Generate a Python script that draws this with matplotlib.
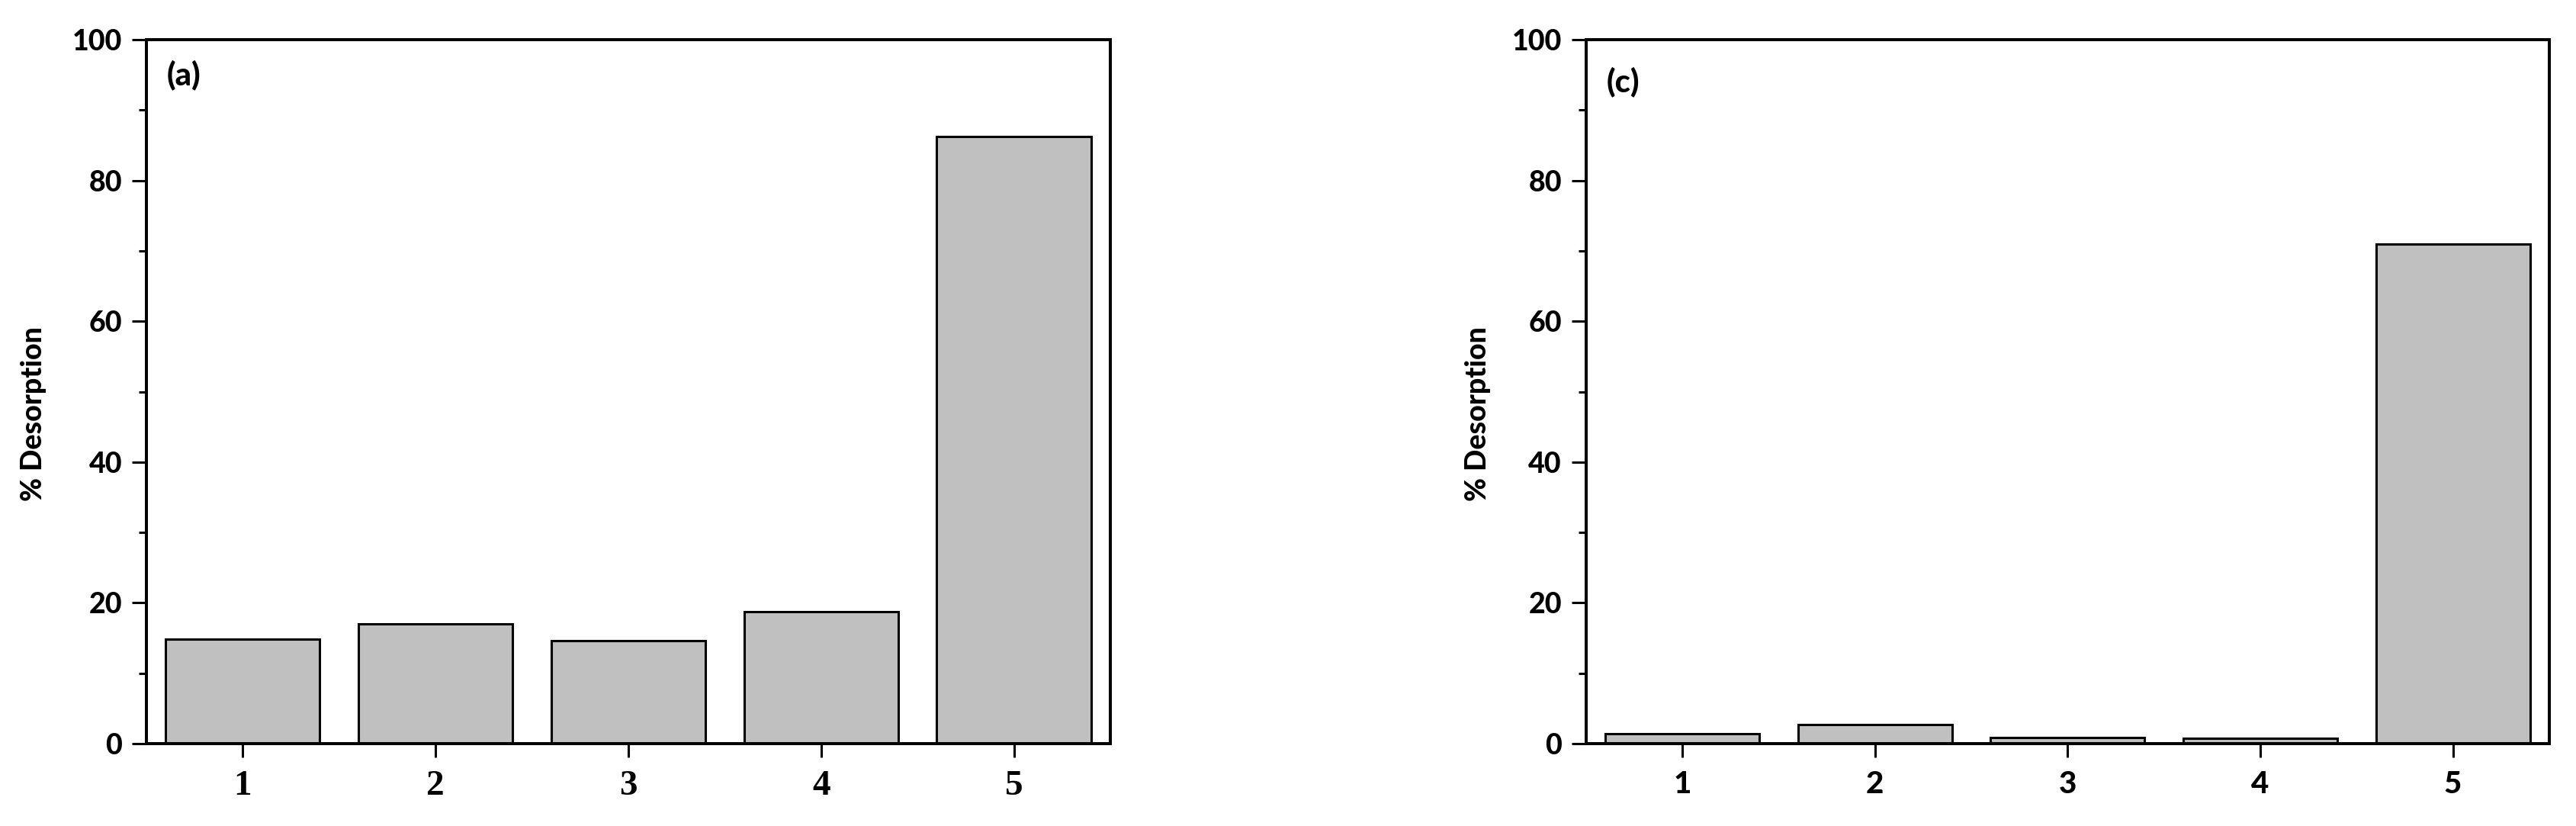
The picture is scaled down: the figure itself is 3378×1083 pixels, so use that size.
"""
Bar charts of % desorption for five cycles, panels (a) and (c).
"""
import matplotlib
matplotlib.use("Agg")
import matplotlib.pyplot as plt
from matplotlib.ticker import MultipleLocator

cycles = [1, 2, 3, 4, 5]
desorption_a = [14.8, 17.0, 14.6, 18.7, 86.2]
desorption_c = [1.4, 2.7, 0.9, 0.75, 71.0]
panel_labels = ["(a)", "(c)"]
ylabel = "% Desorption"

SANS = "Lato"
SERIF = "Liberation Serif"
HEAVY = "black"


def draw_panel(ax, values, label, label_y, ylab_x, xfont, xsize):
    ax.bar(cycles, values, width=0.8, color="#c0c0c0",
           edgecolor="black", linewidth=2.2)
    ax.set_xlim(0.5, 5.5)
    ax.set_ylim(0, 100)
    ax.set_xticks(cycles)
    ax.yaxis.set_major_locator(MultipleLocator(20))
    ax.yaxis.set_minor_locator(MultipleLocator(10))

    for side in ax.spines.values():
        side.set_linewidth(2.9)

    ax.tick_params(axis="y", which="major", direction="out", length=14,
                   width=2.2, pad=9)
    ax.tick_params(axis="y", which="minor", direction="out", length=7,
                   width=2.2)
    ax.tick_params(axis="x", which="major", direction="out", length=13,
                   width=2.2, pad=12)

    for t in ax.get_yticklabels():
        t.set_fontfamily(SANS)
        t.set_fontweight(HEAVY)
        t.set_fontsize(27)
    for t in ax.get_xticklabels():
        t.set_fontfamily(xfont)
        t.set_fontweight(HEAVY if xfont == SANS else "bold")
        t.set_fontsize(xsize)

    ax.set_ylabel(ylabel, fontfamily=SANS, fontweight=HEAVY, fontsize=27)
    ax.yaxis.set_label_coords(ylab_x, 0.468)
    ax.text(0.021, label_y, label, transform=ax.transAxes, ha="left", va="top",
            fontfamily=SANS, fontweight=HEAVY, fontsize=30)


def main():
    fig = plt.figure(figsize=(33.78, 10.83), dpi=100)
    ax_a = fig.add_axes([0.0568, 0.0997, 0.3742, 0.8523])
    ax_c = fig.add_axes([0.6157, 0.0997, 0.3739, 0.8523])

    draw_panel(ax_a, desorption_a, panel_labels[0], 0.972, -0.1035, SERIF, 34)
    draw_panel(ax_c, desorption_c, panel_labels[1], 0.962, -0.0985, SANS, 29)

    fig.savefig("out.png", dpi=100)


if __name__ == "__main__":
    main()
